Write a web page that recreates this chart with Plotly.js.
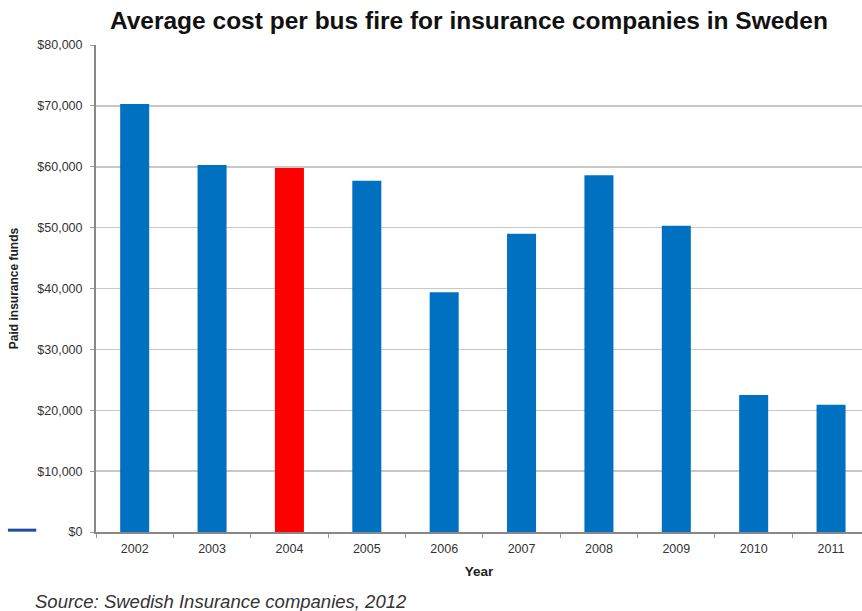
<!DOCTYPE html>
<html>
<head>
<meta charset="utf-8">
<script src="https://cdn.plot.ly/plotly-3.0.1.min.js"></script>
<style>html,body{margin:0;padding:0;background:#fff;}#chart{width:862px;height:611px;}</style>
</head>
<body>
<div id="chart"></div>
<script>
const years = ["2002","2003","2004","2005","2006","2007","2008","2009","2010","2011"];
const costs = [70300, 60300, 59800, 57700, 39400, 49000, 58600, 50300, 22500, 20900];
const highlightYear = "2004";
const yTickVals = [0,10000,20000,30000,40000,50000,60000,70000,80000];
const yTickText = ["$0","$10,000","$20,000","$30,000","$40,000","$50,000","$60,000","$70,000","$80,000"];

const colors = years.map(y => y === highlightYear ? "#FF0000" : "#0070C0");

const trace = {
  type: "bar",
  x: years,
  y: costs,
  width: 0.375,
  marker: {color: colors, line: {width: 0}},
  hoverinfo: "x+y"
};

const layout = {
  width: 862, height: 611,
  margin: {l: 96, r: 0, t: 45, b: 79},
  paper_bgcolor: "#fff", plot_bgcolor: "#fff",
  showlegend: false,
  font: {family: "Liberation Sans, Arial, sans-serif", color: "#333"},
  title: {
    text: "<b>Average cost per bus fire for insurance companies in Sweden</b>",
    font: {size: 24.5, color: "#111", family: "Liberation Sans, Arial, sans-serif"},
    x: 0.544, xanchor: "center", y: 0.966, yanchor: "middle"
  },
  xaxis: {
    type: "category",
    range: [-0.5, 9.4],
    showline: true, linecolor: "#888", linewidth: 2,
    ticks: "outside", tickson: "boundaries", ticklen: 4, tickcolor: "#999",
    ticklabelstandoff: 4,
    tickfont: {size: 12.5, color: "#333"},
    showgrid: false, zeroline: false,
    title: {text: "<b>Year</b>", font: {size: 13.5, color: "#222"}, standoff: 12}
  },
  yaxis: {
    range: [0, 80000],
    tickvals: yTickVals, ticktext: yTickText,
    showline: true, linecolor: "#888", linewidth: 2,
    ticks: "outside", ticklen: 4, tickcolor: "#999",
    ticklabelstandoff: 5,
    tickfont: {size: 12.5, color: "#333"},
    showgrid: true, gridcolor: "#c8c8c8", gridwidth: 1.5,
    zeroline: false,
    title: {text: "<b>Paid insurance funds</b>", font: {size: 12, color: "#222"}, standoff: 16}
  },
  shapes: [
    {type: "line", xref: "paper", yref: "y", x0: -0.115, x1: -0.078, y0: 300, y1: 300,
     line: {color: "#1F4E9A", width: 3}}
  ],
  annotations: [
    {text: "<i>Source: Swedish Insurance companies, 2012</i>", xref: "paper", yref: "paper",
     x: -0.082, y: -0.143, xanchor: "left", yanchor: "middle", showarrow: false,
     font: {size: 18.5, color: "#333"}}
  ]
};

Plotly.newPlot("chart", [trace], layout, {displayModeBar: false, staticPlot: true});
</script>
</body>
</html>
